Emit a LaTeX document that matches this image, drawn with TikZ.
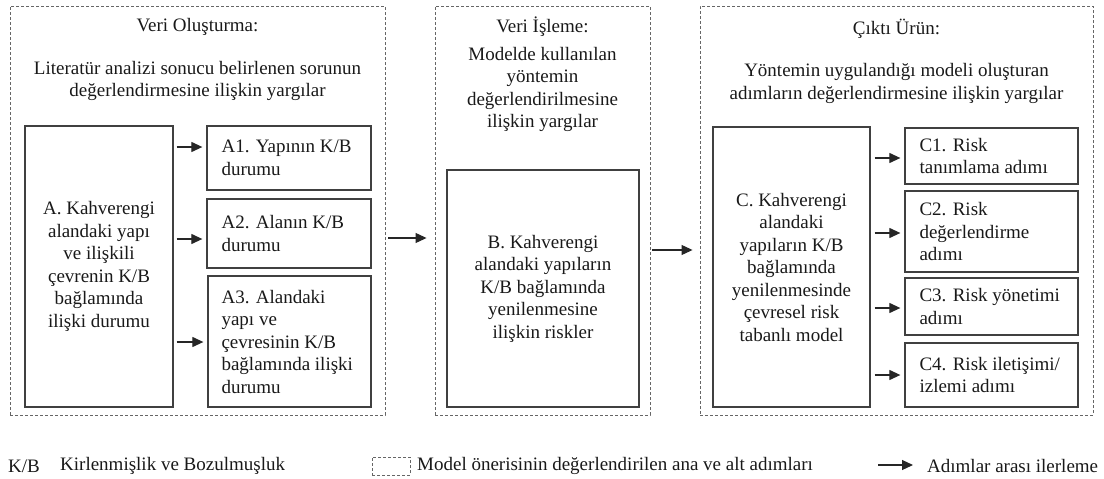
\documentclass[tikz,border=0pt]{standalone}
\usepackage{fontspec}
\setmainfont{Liberation Serif}
\usetikzlibrary{arrows.meta}
\begin{document}
\begin{tikzpicture}[x=1pt,y=-1pt,
  txt/.style={font=\fontsize{19}{22.5}\selectfont, text=black!90, inner sep=0pt, align=center},
  ltxt/.style={txt, align=left, anchor=west},
  panel/.style={draw=black!60, line width=0.9pt, dash pattern=on 3pt off 2pt, inner sep=0pt},
  box/.style={draw=black!75, line width=1.3pt, inner sep=0pt},
  arr/.style={draw=black!85, line width=1.2pt, -{Triangle[length=11pt,width=10pt]}}]
\useasboundingbox (0,0) rectangle (1104,479);

% panels
\node[panel, minimum width=375, minimum height=409] (P1) at (197.5,210.5) {};
\node[panel, minimum width=215, minimum height=409] (P2) at (542.5,210.5) {};
\node[panel, minimum width=393, minimum height=409] (P3) at (896.5,210.5) {};

% panel titles
\node[txt] (T1) at (197.5,27) {Veri Oluşturma:};
\node[txt] (S1) at (197.5,81) {Literatür analizi sonucu belirlenen sorunun\\değerlendirmesine ilişkin yargılar};
\node[txt] (T2) at (542.5,27) {Veri İşleme:};
\node[txt] (S2) at (542.5,89.5) {Modelde kullanılan\\yöntemin\\değerlendirilmesine\\ilişkin yargılar};
\node[txt] (T3) at (896.5,29) {Çıktı Ürün:};
\node[txt] (S3) at (896.5,83.5) {Yöntemin uygulandığı modeli oluşturan\\adımların değerlendirmesine ilişkin yargılar};

% left panel boxes
\node[box, txt, minimum width=148, minimum height=281] (A) at (99,266.5)
  {A. Kahverengi\\alandaki yapı\\ve ilişkili\\çevrenin K/B\\bağlamında\\ilişki durumu};
\node[box, minimum width=164, minimum height=64] (A1) at (289,158) {};
\node[box, minimum width=164, minimum height=69] (A2) at (289,233.5) {};
\node[box, minimum width=163, minimum height=131] (A3) at (289.5,341.5) {};
\node[ltxt] (A1t) at ([xshift=15pt]A1.west) {A1. Yapının K/B\\durumu};
\node[ltxt] (A2t) at ([xshift=15pt]A2.west) {A2. Alanın K/B\\durumu};
\node[ltxt] (A3t) at ([xshift=14pt]A3.west) {A3. Alandaki\\yapı ve\\çevresinin K/B\\bağlamında ilişki\\durumu};

% middle panel box
\node[box, txt, minimum width=192, minimum height=237] (B) at (543,288.5)
  {B. Kahverengi\\alandaki yapıların\\K/B bağlamında\\yenilenmesine\\ilişkin riskler};

% right panel boxes
\node[box, txt, minimum width=157, minimum height=280] (C) at (791.5,267)
  {C. Kahverengi\\alandaki\\yapıların K/B\\bağlamında\\yenilenmesinde\\çevresel risk\\tabanlı model};
\node[box, minimum width=173, minimum height=56] (C1) at (991.5,156) {};
\node[box, minimum width=173, minimum height=81] (C2) at (991.5,231.5) {};
\node[box, minimum width=173, minimum height=57] (C3) at (991.5,306.5) {};
\node[box, minimum width=173, minimum height=64] (C4) at (991.5,375) {};
\node[ltxt] (C1t) at ([xshift=15pt]C1.west) {C1. Risk\\tanımlama adımı};
\node[ltxt] (C2t) at ([xshift=15pt]C2.west) {C2. Risk\\değerlendirme\\adımı};
\node[ltxt] (C3t) at ([xshift=15pt]C3.west) {C3. Risk yönetimi\\adımı};
\node[ltxt] (C4t) at ([xshift=15pt]C4.west) {C4. Risk iletişimi/\\izlemi adımı};

% arrow heights
\coordinate (yA1) at (0,147);
\coordinate (yA2) at (0,239);
\coordinate (yA3) at (0,342);
\coordinate (yP12) at (0,238);
\coordinate (yP23) at (0,250);
\coordinate (yC1) at (0,158);
\coordinate (yC2) at (0,233);
\coordinate (yC3) at (0,308);
\coordinate (yC4) at (0,375);

\draw[arr] ([xshift=3pt]A.east |- yA1) -- ([xshift=-4pt]A1.west |- yA1);
\draw[arr] ([xshift=3pt]A.east |- yA2) -- ([xshift=-4pt]A2.west |- yA2);
\draw[arr] ([xshift=3pt]A.east |- yA3) -- ([xshift=-4pt]A3.west |- yA3);
\draw[arr] ([xshift=3pt]P1.east |- yP12) -- ([xshift=-8pt]P2.west |- yP12);
\draw[arr] ([xshift=2pt]P2.east |- yP23) -- ([xshift=-7pt]P3.west |- yP23);
\draw[arr] ([xshift=4pt]C.east |- yC1) -- ([xshift=-4pt]C1.west |- yC1);
\draw[arr] ([xshift=4pt]C.east |- yC2) -- ([xshift=-4pt]C2.west |- yC2);
\draw[arr] ([xshift=4pt]C.east |- yC3) -- ([xshift=-4pt]C3.west |- yC3);
\draw[arr] ([xshift=4pt]C.east |- yC4) -- ([xshift=-4pt]C4.west |- yC4);

% legend
\node[ltxt] (L1) at (8,466) {K/B};
\node[ltxt] (L2) at (60,466) {Kirlenmişlik ve Bozulmuşluk};
\node[panel, minimum width=38, minimum height=18] (L3) at (391,466) {};
\node[ltxt] (L4) at (417,466) {Model önerisinin değerlendirilen ana ve alt adımları};
\coordinate (L5a) at (878,465);
\coordinate (L5b) at (913,465);
\draw[arr] (L5a) -- (L5b);
\node[ltxt] (L6) at (927,466) {Adımlar arası ilerleme};
\end{tikzpicture}
\end{document}
